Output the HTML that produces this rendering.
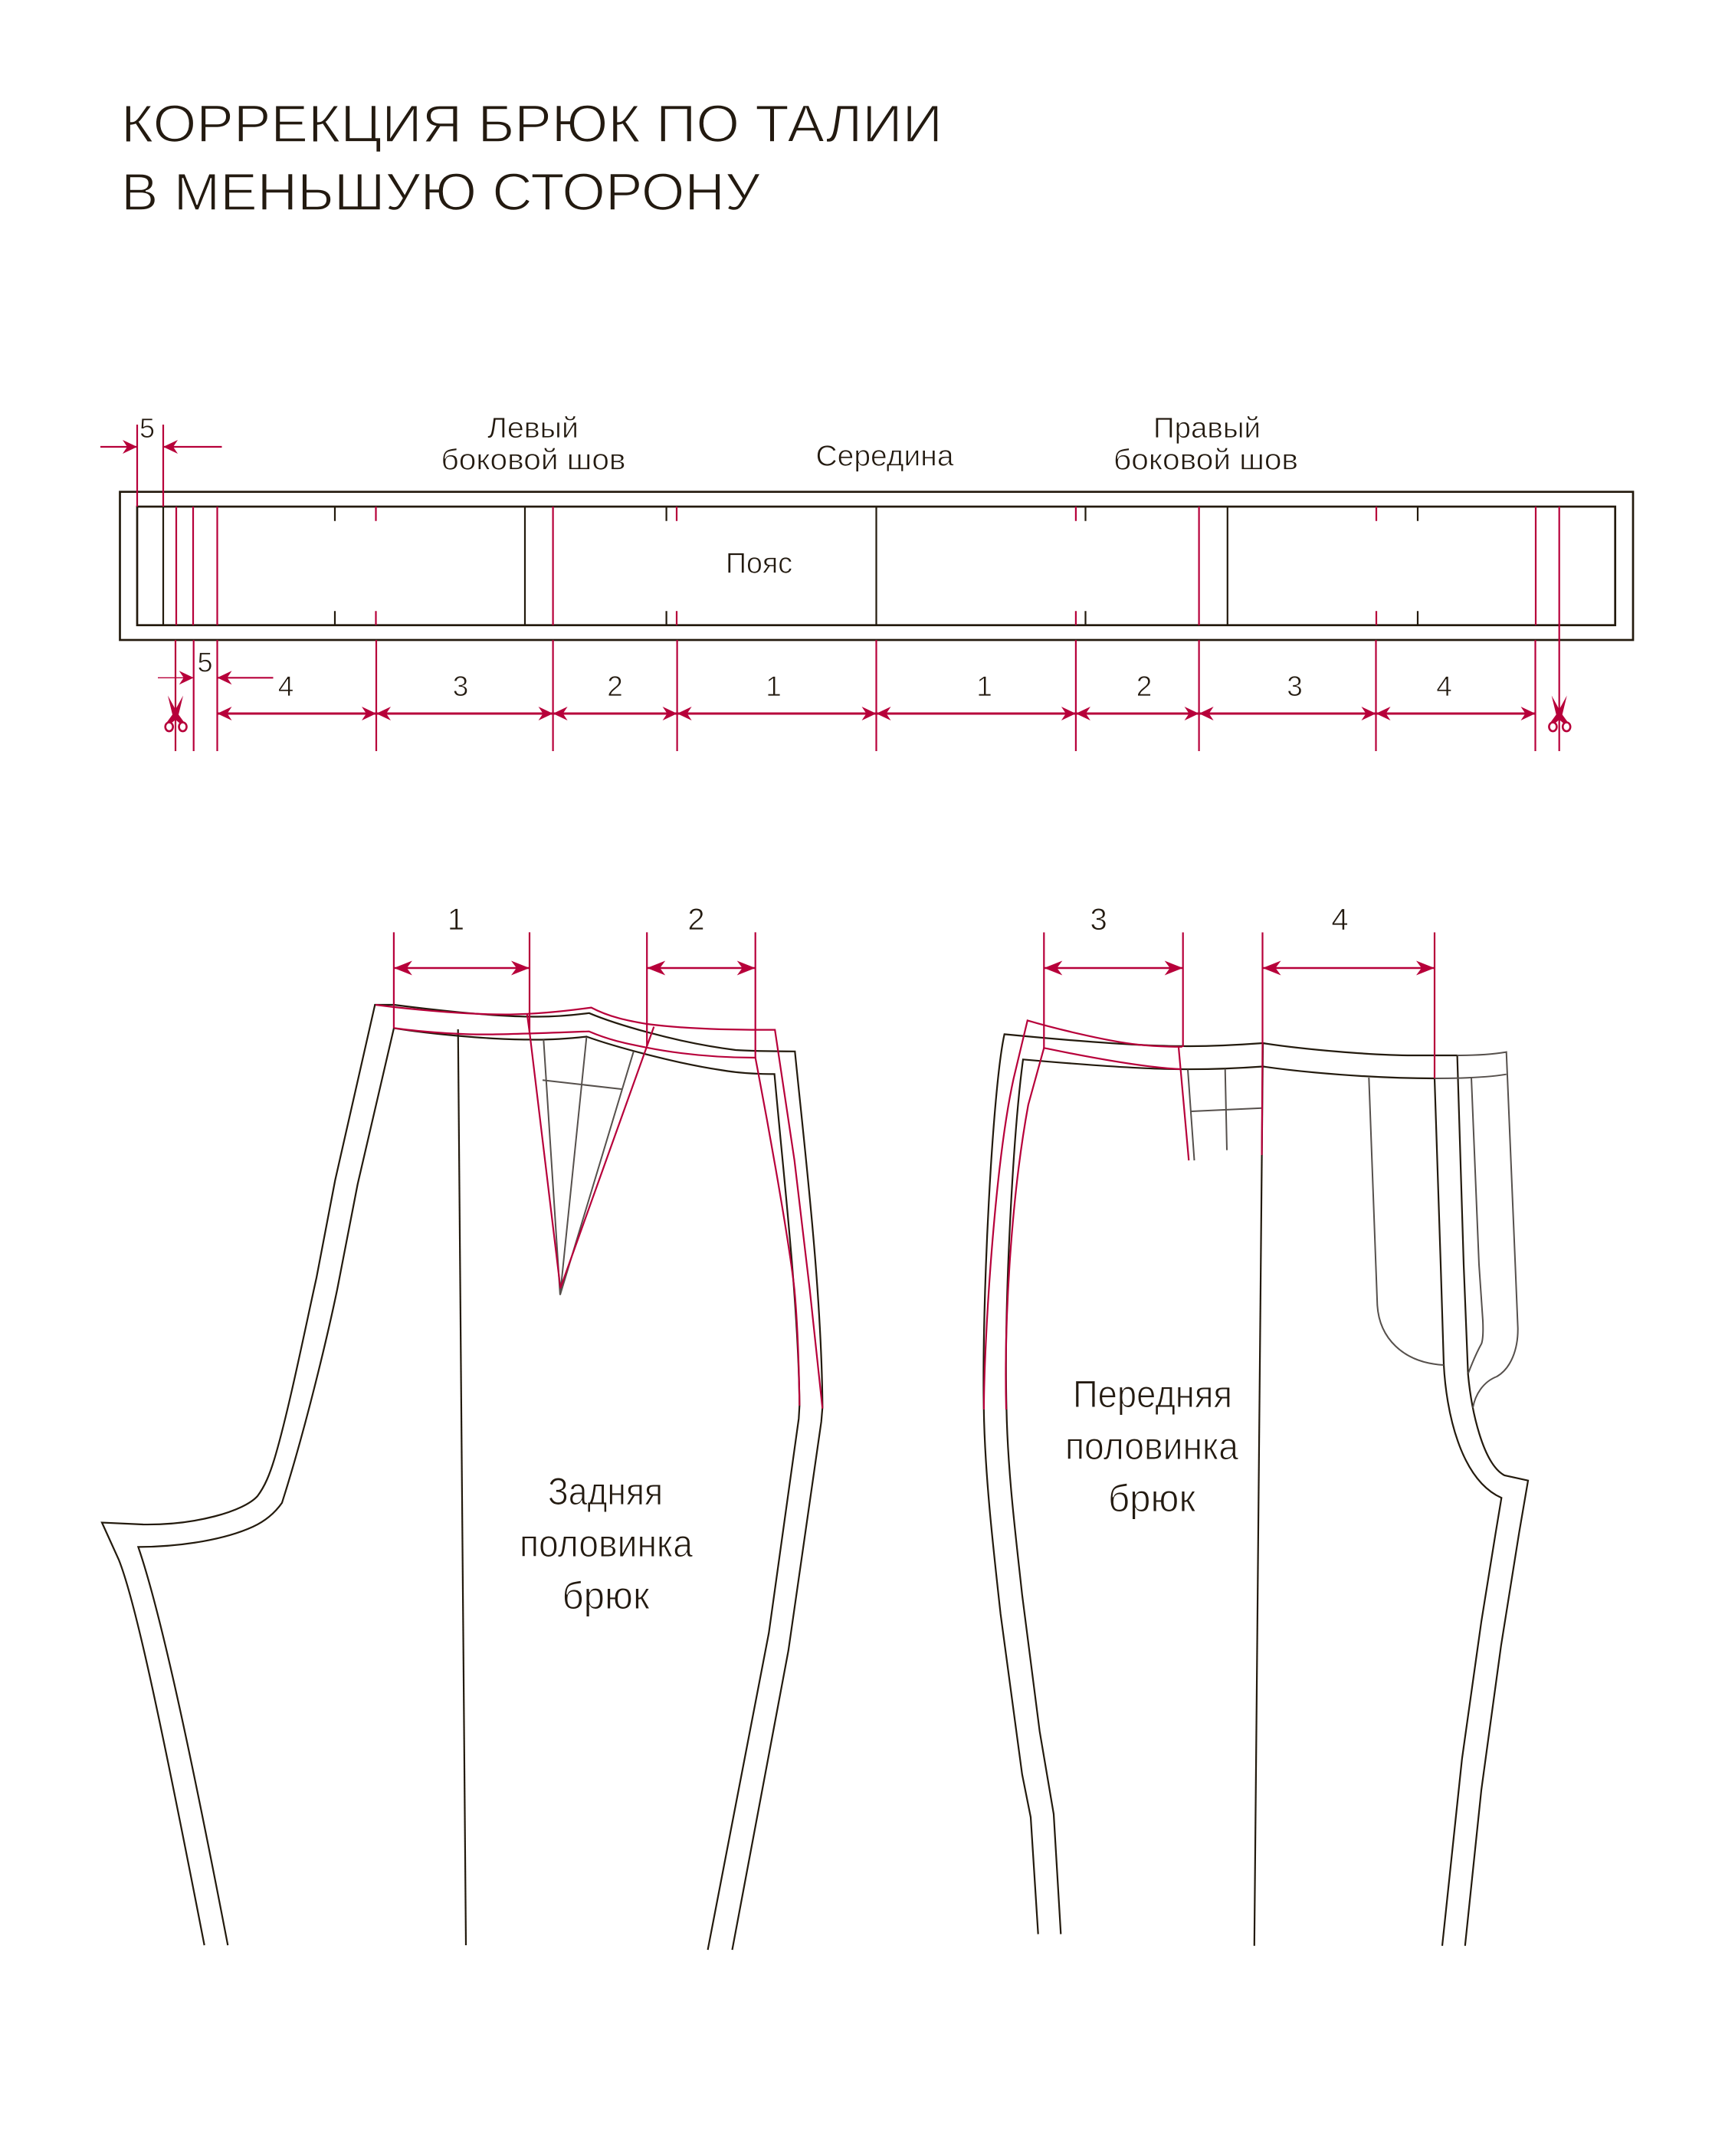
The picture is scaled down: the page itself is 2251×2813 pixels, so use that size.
<!DOCTYPE html>
<html lang="ru">
<head>
<meta charset="utf-8">
<title>Коррекция брюк по талии</title>
<style>
html,body{margin:0;padding:0;background:#fff}
svg{display:block}
text{font-family:"Liberation Sans","Noto Sans CJK SC",sans-serif;fill:#231a10;stroke:#fff;stroke-width:.8}
.t{stroke-width:1.6}
.l{stroke-width:1.1}
.d{fill:none;stroke:#231a0d;stroke-width:2.2;stroke-linejoin:miter}
.b{stroke-width:2.7}
.g{fill:none;stroke:#56504c;stroke-width:2}
.r{fill:none;stroke:#b7003a;stroke-width:2.2}
.a{fill:none;stroke:#b7003a;stroke-width:3;marker-start:url(#ah);marker-end:url(#ah)}
.a2{fill:none;stroke:#b7003a;stroke-width:2.6;marker-start:url(#ah2);marker-end:url(#ah2)}
.s{fill:none;stroke:#b7003a;stroke-width:2.2;marker-end:url(#ah)}
</style>
</head>
<body>
<svg xmlns="http://www.w3.org/2000/svg" width="2251" height="2813" viewBox="0 0 2251 2813">
<defs>
<marker id="ah" markerUnits="userSpaceOnUse" orient="auto-start-reverse" markerWidth="26" markerHeight="22" refX="22" refY="11" viewBox="0 0 26 22">
<path d="M22,11 L3,2 L9,11 L3,20 Z" fill="#b7003a"/>
</marker>
<marker id="ah2" markerUnits="userSpaceOnUse" orient="auto-start-reverse" markerWidth="30" markerHeight="24" refX="26" refY="12" viewBox="0 0 30 24">
<path d="M26,12 L2,2.5 L9,12 L2,21.5 Z" fill="#b7003a"/>
</marker>
</defs>
<rect width="2251" height="2813" fill="#fff"/>

<!-- Title -->
<text class="t" x="158" y="185" font-size="69" textLength="1072" lengthAdjust="spacingAndGlyphs">КОРРЕКЦИЯ БРЮК ПО ТАЛИИ</text>
<text class="t" x="158" y="274" font-size="69" textLength="834" lengthAdjust="spacingAndGlyphs">В МЕНЬШУЮ СТОРОНУ</text>

<!-- Belt labels -->
<text x="636" y="571" font-size="38" textLength="119" lengthAdjust="spacingAndGlyphs">Левый</text>
<text x="575.5" y="612.7" font-size="38" textLength="241" lengthAdjust="spacingAndGlyphs">боковой шов</text>
<text x="1064.5" y="607.3" font-size="38" textLength="180" lengthAdjust="spacingAndGlyphs">Середина</text>
<text x="947" y="747.7" font-size="38" textLength="87" lengthAdjust="spacingAndGlyphs">Пояс</text>
<text x="1505" y="571" font-size="38" textLength="140" lengthAdjust="spacingAndGlyphs">Правый</text>
<text x="1453" y="612.7" font-size="38" textLength="241" lengthAdjust="spacingAndGlyphs">боковой шов</text>

<!-- Belt outlines -->
<g class="d b">
<rect x="156.5" y="641.7" width="1974.5" height="193.3"/>
<rect x="179" y="661" width="1928.7" height="154.7"/>
</g>
<g class="d">
<path d="M213,661V815.7M685,661V815.7M1143.5,661V815.7M1601.8,661V815.7"/>
<path d="M437,661V679.7M437,797.3V815.7M869.6,661V679.7M869.6,797.3V815.7M1416.5,661V679.7M1416.5,797.3V815.7M1850,661V679.7M1850,797.3V815.7"/>
</g>
<g class="r">
<path d="M490.5,661V679.7M490.5,797.3V815.7M883,661V679.7M883,797.3V815.7M1403.9,661V679.7M1403.9,797.3V815.7M1796,661V679.7M1796,797.3V815.7"/>
<path d="M179,554V661M213,554V661"/>
<path d="M230,661V815.7M252,661V815.7M283.5,661V815.7M721.6,661V815.7M1564.6,661V815.7M2004,661V815.7M2034.7,661V980"/>
<path d="M229,835V980M252.7,835V980M283.5,835V980M491,835V980M721.6,835V980M883.6,835V980M1143.5,835V980M1403.9,835V980M1564.6,835V980M1795.5,835V980M2003.5,835V980"/>
</g>

<!-- Belt small arrows and 5 -->
<path class="s" d="M131,583H179"/>
<path class="s" d="M289.5,583H213"/>
<path class="s" d="M206,884.3H252.7" style="stroke-width:1.4"/>
<path class="s" d="M356.5,884.3H283.5"/>
<text x="192" y="571" font-size="36" text-anchor="middle">5</text>
<text x="267.5" y="876.5" font-size="36" text-anchor="middle">5</text>

<!-- Belt dimension arrows -->
<g>
<path class="a" d="M283.5,931H491"/>
<path class="a" d="M491,931H721.6"/>
<path class="a" d="M721.6,931H883.6"/>
<path class="a" d="M883.6,931H1143.5"/>
<path class="a" d="M1143.5,931H1403.9"/>
<path class="a" d="M1403.9,931H1564.6"/>
<path class="a" d="M1564.6,931H1795.5"/>
<path class="a" d="M1795.5,931H2003.5"/>
</g>
<g font-size="37" text-anchor="middle">
<text x="373" y="908">4</text><text x="601" y="908">3</text><text x="802.6" y="908">2</text><text x="1009.6" y="908">1</text>
<text x="1284.6" y="908">1</text><text x="1493" y="908">2</text><text x="1689.5" y="908">3</text><text x="1884.5" y="908">4</text>
</g>

<!-- Scissors -->
<g fill="#b7003a">
<path d="M219,907.5L232,931L240,942L235.5,944.5L226,936.5Z"/>
<path d="M239,907.5L226,931L218,942L222.5,944.5L232,936.5Z"/>
<ellipse cx="220.7" cy="948.3" rx="5" ry="5.8" fill="#fff" stroke="#b7003a" stroke-width="2.6"/>
<ellipse cx="238.5" cy="948.3" rx="5" ry="5.8" fill="#fff" stroke="#b7003a" stroke-width="2.6"/>
</g>
<g fill="#b7003a" transform="translate(1805.7,0)">
<path d="M219,907.5L232,931L240,942L235.5,944.5L226,936.5Z"/>
<path d="M239,907.5L226,931L218,942L222.5,944.5L232,936.5Z"/>
<ellipse cx="220.7" cy="948.3" rx="5" ry="5.8" fill="#fff" stroke="#b7003a" stroke-width="2.6"/>
<ellipse cx="238.5" cy="948.3" rx="5" ry="5.8" fill="#fff" stroke="#b7003a" stroke-width="2.6"/>
</g>

<!-- BACK piece -->
<g class="d">
<path d="M266.7,2538C205,2220 175,2085 155,2035L133,1986.5L186.7,1989C255,1990 318,1972 336,1952C345,1940 352,1925 360,1897C378,1835 400,1725 413,1667L437.3,1540L489.3,1311L514,1311C560,1317 640,1326 690.7,1326.4C715,1327 745,1325 768.7,1321.8C800,1335 880,1360 960,1370Q980,1371.5 1037.3,1371.8C1050,1500 1072,1680 1073.3,1835.8L1071.7,1855L1028.8,2153.5L955.5,2544"/>
<path d="M297.3,2538C240,2240 205,2090 180.4,2018.4C240,2018 295,2008 330,1992C345,1985 358,1975 368,1960.7C400,1860 428,1740 440,1682.6L466.7,1545L514,1341.4C560,1349 640,1356.4 690.7,1356.4C715,1357 745,1355 765.4,1352.5C800,1365 880,1387 940,1396Q970,1401.3 1010.6,1401.4C1022,1530 1042,1700 1043.3,1834L1042.3,1851L1003.3,2130.5L923.6,2544"/>
<path d="M597.7,1343L608,2538"/>
</g>
<g class="g">
<path d="M709.3,1356.4L730.9,1689.6L765.4,1353M826.8,1371.8L730.9,1689.6M708,1409.3L811,1421"/>
</g>
<g class="r">
<path d="M490,1311L514.3,1314C560,1319 620,1324 665.8,1323.6C700,1323 740,1319 771.6,1314.6C795,1327 820,1332 844.2,1336C890,1342 950,1344 1011.2,1343.6L1036.7,1514L1056.7,1682.7L1073.3,1837.7"/>
<path d="M514.3,1341.4C540,1345 590,1349.6 628.4,1349.6C660,1350 730,1347 768.7,1345.7C795,1357 815,1361 842,1366.4C880,1374 930,1380 985.7,1380C1002,1465 1030,1620 1036.7,1682.7Q1042,1740 1043.3,1834"/>
<path d="M687.8,1322.9L691.5,1350.4L731.3,1680.7L853.3,1339.6"/>
<path d="M513.9,1216.4V1341.4M691,1216.4V1349M844.2,1216.4V1365M985.7,1216.4V1380"/>
</g>
<path class="a2" d="M513.9,1263H691"/>
<path class="a2" d="M844.2,1263H985.7"/>
<g font-size="40" text-anchor="middle">
<text x="595" y="1213">1</text><text x="908.5" y="1213">2</text>
<text x="1433.6" y="1213">3</text><text x="1748.5" y="1213">4</text>
</g>
<g font-size="50" class="l">
<text class="l" x="715" y="1963" textLength="150" lengthAdjust="spacingAndGlyphs">Задняя</text>
<text class="l" x="678" y="2031" textLength="226" lengthAdjust="spacingAndGlyphs">половинка</text>
<text class="l" x="733.5" y="2099" textLength="114" lengthAdjust="spacingAndGlyphs">брюк</text>
<text class="l" x="1400" y="1836" textLength="208" lengthAdjust="spacingAndGlyphs">Передняя</text>
<text class="l" x="1390" y="1904" textLength="226" lengthAdjust="spacingAndGlyphs">половинка</text>
<text class="l" x="1446" y="1972" textLength="114" lengthAdjust="spacingAndGlyphs">брюк</text>
</g>

<!-- FRONT piece -->
<g class="d">
<path d="M1354.7,2523.5L1345,2371L1333.8,2315L1305.7,2106C1295,2010 1285,1920 1283.8,1838C1281,1700 1295,1420 1310.7,1349.4C1400,1358 1490,1365 1542.7,1364.9C1580,1365.5 1620,1363 1648,1361C1700,1369 1790,1377 1844,1377L1901.6,1377"/>
<path d="M1384.3,2523.5L1375,2367L1356.7,2259L1333.8,2080.6C1325,2000 1315,1920 1313.4,1838C1310,1700 1322,1480 1335,1382.3C1400,1388 1490,1395 1540,1395C1580,1395.5 1620,1393.5 1648,1391.5C1700,1399 1790,1407 1872,1407"/>
<path d="M1648,1361L1636.8,2538.8"/>
<path d="M1872,1407L1880,1650L1884,1780C1887,1840 1905,1930 1959.3,1954.3L1951.7,2000L1933,2116L1907.8,2295L1882,2538.8"/>
<path d="M1901.6,1377L1910,1650L1915.7,1793C1920,1840 1935,1910 1963.3,1925L1994,1931.7L1982.3,2000L1958.8,2147L1933,2335.7L1911.8,2538.8"/>
</g>
<g class="g">
<path d="M1872,1407C1900,1407 1940,1406 1965.7,1401.7"/>
<path d="M1901.6,1377C1920,1377 1945,1376 1965.7,1372.6L1977.3,1650L1980.7,1733C1981,1760 1972,1785 1953.3,1796C1935,1803 1925,1820 1922,1836.7"/>
<path d="M1920,1406L1930,1650L1935,1723Q1936,1745 1933.3,1753Q1925,1768 1916,1791.7"/>
<path d="M1786.3,1406L1797.3,1703C1800,1745 1830,1778 1884,1781"/>
<path d="M1550,1395.4L1558.5,1514M1598.7,1394.4L1601,1500.6M1554.7,1450L1646.6,1445.8"/>
</g>
<g class="r">
<path d="M1283.9,1839C1284,1750 1298,1520 1322.6,1407.5L1340.8,1331.4C1370,1340 1440,1358 1485.3,1363C1505,1365 1525,1365.8 1542.7,1365.8"/>
<path d="M1313,1839C1310,1720 1320,1560 1341.8,1441.5L1362.3,1367.3C1390,1373 1480,1392 1540,1395"/>
<path d="M1538,1366.3L1551.3,1514"/>
<path d="M1362.3,1216.5V1367.3M1543.7,1216.5V1366M1647.5,1216.5V1361L1646.6,1507M1872,1216.5V1407"/>
</g>
<path class="a2" d="M1362.3,1263H1543.7"/>
<path class="a2" d="M1647.5,1263H1872"/>
</svg>
</body>
</html>
